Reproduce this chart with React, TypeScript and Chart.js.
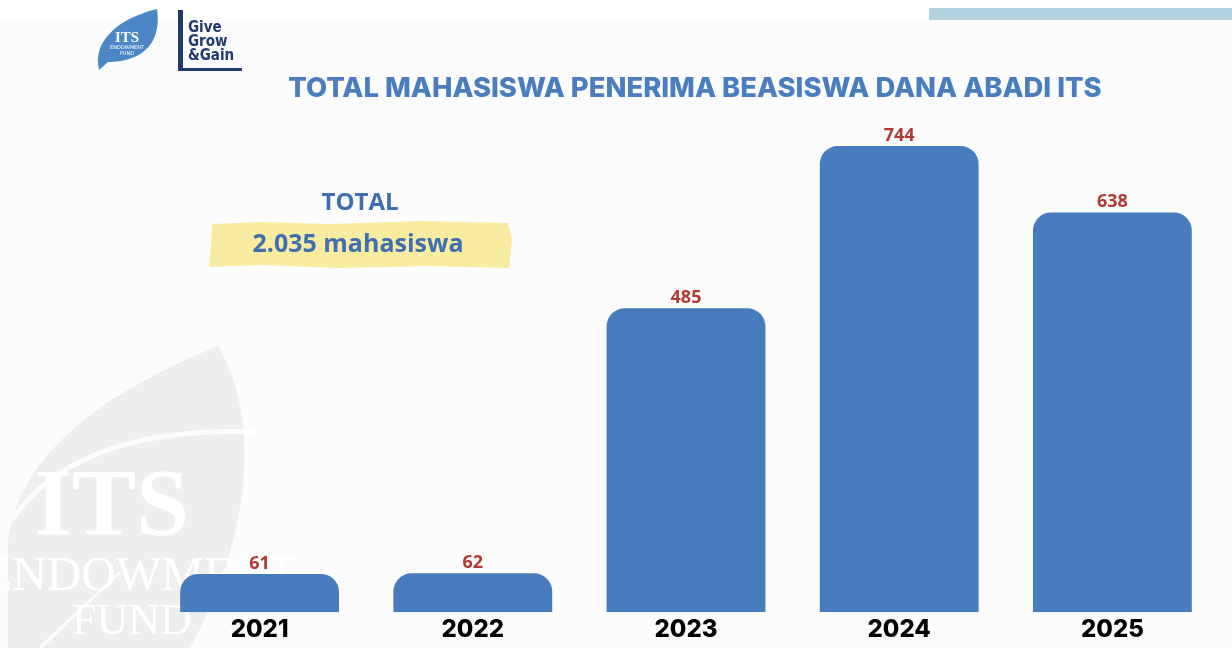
import React, { useEffect, useRef } from "react";
import { Chart, registerables } from "chart.js";

Chart.register(...registerables);

const years: string[] = ["2021", "2022", "2023", "2024", "2025"];
const recipients: number[] = [61, 62, 485, 744, 638];
const titleText = "TOTAL MAHASISWA PENERIMA BEASISWA DANA ABADI ITS";
const totalLabel = "TOTAL";
const totalValue = "2.035 mahasiswa";
const yMax = 800;

const BLUE = "#477CBE";
const TITLE_BLUE = "#4A7DC0";
const LABEL_RED = "#AF3A33";
const NAVY = "#1F3A6C";

function drawBackground(ctx: CanvasRenderingContext2D) {
  ctx.save();
  ctx.fillStyle = "#FCFCFC";
  ctx.fillRect(0, 0, 1232, 648);
  ctx.fillStyle = "#FFFFFF";
  ctx.fillRect(0, 0, 1232, 21);
  // top-right stripe
  ctx.fillStyle = "#B3D2DF";
  ctx.fillRect(929, 8, 303, 12);

  // watermark leaf
  ctx.fillStyle = "#EEEEEE";
  ctx.beginPath();
  ctx.moveTo(8, 648);
  ctx.lineTo(8, 540);
  ctx.bezierCurveTo(20, 450, 110, 390, 218, 346);
  ctx.bezierCurveTo(262, 420, 250, 540, 190, 648);
  ctx.closePath();
  ctx.fill();
  // lighter swoosh
  ctx.strokeStyle = "rgba(255,255,255,0.8)";
  ctx.lineWidth = 5;
  ctx.beginPath();
  ctx.moveTo(12, 520);
  ctx.bezierCurveTo(60, 450, 150, 428, 258, 432);
  ctx.stroke();
  ctx.lineWidth = 3;
  ctx.beginPath();
  ctx.moveTo(40, 648);
  ctx.lineTo(120, 572);
  ctx.stroke();
  // watermark text
  ctx.fillStyle = "#FFFFFF";
  ctx.textAlign = "center";
  ctx.textBaseline = "alphabetic";
  ctx.font = "bold 96px 'Liberation Serif', serif";
  ctx.fillText("ITS", 112, 535);
  ctx.font = "48px 'Liberation Serif', serif";
  ctx.fillText("ENDOWMENT", 140, 590);
  ctx.font = "44px 'Liberation Serif', serif";
  ctx.fillText("FUND", 132, 634);
  ctx.restore();
}

function drawLogos(ctx: CanvasRenderingContext2D) {
  ctx.save();
  // ITS leaf logo
  ctx.fillStyle = "#4B87C6";
  ctx.beginPath();
  ctx.moveTo(99, 70);
  ctx.bezierCurveTo(92, 40, 120, 18, 157, 9);
  ctx.bezierCurveTo(162, 40, 145, 62, 108, 62);
  ctx.closePath();
  ctx.fill();
  ctx.fillStyle = "#FFFFFF";
  ctx.textAlign = "center";
  ctx.font = "bold 15px 'Liberation Serif', serif";
  ctx.fillText("ITS", 127, 42);
  ctx.font = "5px 'DejaVu Sans', sans-serif";
  ctx.fillText("ENDOWMENT", 127, 49);
  ctx.fillText("FUND", 127, 55);

  // Give Grow & Gain logo
  ctx.fillStyle = NAVY;
  ctx.fillRect(178, 10, 5, 61);
  ctx.fillRect(178, 68, 64, 3);
  ctx.textAlign = "left";
  ctx.font = "bold 15px 'DejaVu Sans Condensed', 'DejaVu Sans', sans-serif";
  ctx.fillText("Give", 188, 32);
  ctx.fillText("Grow", 188, 46);
  ctx.fillText("&Gain", 188, 60);
  ctx.restore();
}

function drawTexts(ctx: CanvasRenderingContext2D) {
  ctx.save();
  // title
  ctx.fillStyle = TITLE_BLUE;
  ctx.textAlign = "center";
  ctx.textBaseline = "alphabetic";
  let size = 27;
  ctx.font = `800 ${size}px Inter, 'Open Sans', sans-serif`;
  const w = ctx.measureText(titleText).width;
  size = Math.min(30, size * (814 / w));
  ctx.font = `800 ${size}px Inter, 'Open Sans', sans-serif`;
  ctx.fillText(titleText, 695, 97);

  // highlighter band
  ctx.fillStyle = "#F8ECA0";
  ctx.beginPath();
  ctx.moveTo(212, 224);
  ctx.lineTo(260, 222);
  ctx.lineTo(330, 224);
  ctx.lineTo(420, 221);
  ctx.lineTo(508, 223);
  ctx.lineTo(512, 240);
  ctx.lineTo(509, 268);
  ctx.lineTo(430, 266);
  ctx.lineTo(340, 268);
  ctx.lineTo(260, 265);
  ctx.lineTo(209, 267);
  ctx.lineTo(211, 246);
  ctx.closePath();
  ctx.fill();

  ctx.fillStyle = "#3F6FB0";
  ctx.font = "bold 24px 'Open Sans', sans-serif";
  ctx.fillText(totalLabel, 360, 210);
  ctx.font = "bold 25px 'Open Sans', sans-serif";
  ctx.fillText(totalValue, 358, 252);
  ctx.restore();
}

const decorPlugin = {
  id: "decor",
  beforeDraw(chart: any) {
    const ctx = chart.ctx as CanvasRenderingContext2D;
    drawBackground(ctx);
    drawLogos(ctx);
    drawTexts(ctx);
  },
};

const valueLabelPlugin = {
  id: "valueLabels",
  afterDatasetsDraw(chart: any) {
    const ctx = chart.ctx as CanvasRenderingContext2D;
    const meta = chart.getDatasetMeta(0);
    ctx.save();
    ctx.fillStyle = LABEL_RED;
    ctx.font = "bold 18px 'Open Sans', sans-serif";
    ctx.textAlign = "center";
    ctx.textBaseline = "alphabetic";
    meta.data.forEach((bar: any, i: number) => {
      ctx.fillText(String(recipients[i]), bar.x, bar.y - 5);
    });
    ctx.restore();
  },
};

export default function App() {
  const ref = useRef<HTMLCanvasElement | null>(null);

  useEffect(() => {
    if (!ref.current) return;
    const chart = new Chart(ref.current, {
      type: "bar",
      data: {
        labels: years,
        datasets: [
          {
            data: recipients,
            backgroundColor: BLUE,
            borderWidth: 0,
            borderRadius: { topLeft: 18, topRight: 18, bottomLeft: 0, bottomRight: 0 },
            borderSkipped: false,
            categoryPercentage: 1,
            barPercentage: 0.745,
          },
        ],
      },
      options: {
        responsive: false,
        animation: false,
        layout: { padding: { left: 153, right: 13, top: 111, bottom: 1 } },
        plugins: {
          legend: { display: false },
          tooltip: { enabled: false },
          title: { display: false },
        },
        scales: {
          x: {
            grid: { display: false, drawTicks: false },
            border: { display: false },
            ticks: {
              color: "#000000",
              padding: 3,
              font: { family: "Inter, Roboto, sans-serif", size: 24, weight: "800" as any },
            },
          },
          y: {
            display: false,
            min: 0,
            max: yMax,
          },
        },
      },
      plugins: [decorPlugin, valueLabelPlugin],
    });
    return () => chart.destroy();
  }, []);

  return (
    <div style={{ position: "absolute", left: 0, top: 0, width: 1232, height: 648 }}>
      <canvas ref={ref} width={1232} height={648} style={{ display: "block" }} />
    </div>
  );
}
